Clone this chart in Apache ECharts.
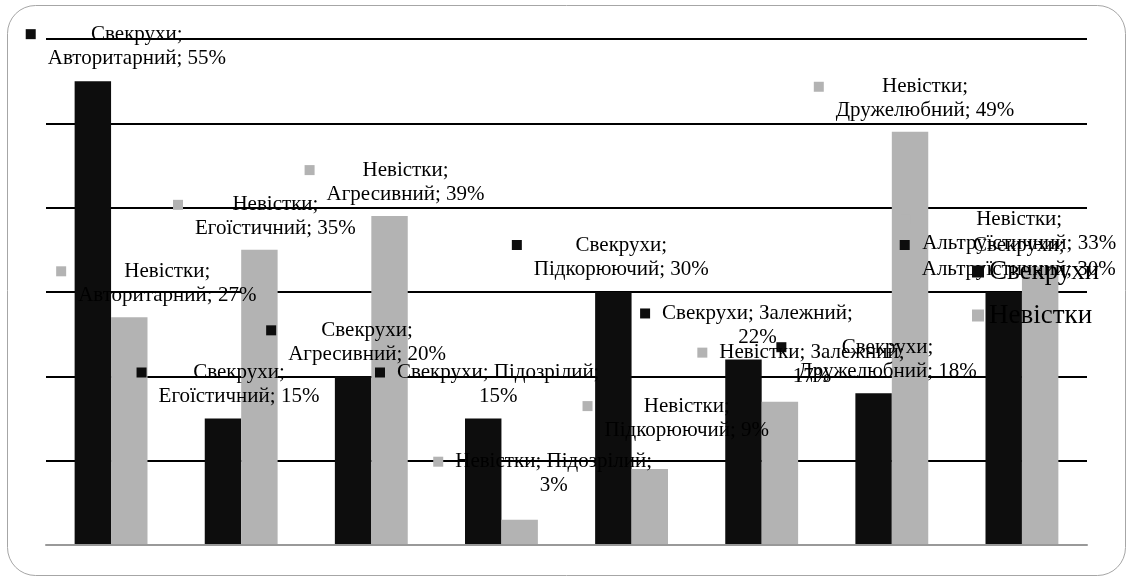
<!DOCTYPE html>
<html>
<head>
<meta charset="utf-8">
<script src="https://cdn.jsdelivr.net/npm/echarts@6/dist/echarts.min.js"></script>
<style>
  html, body { margin: 0; padding: 0; background: #fff; }
  #chart { width: 1127px; height: 578px; }
</style>
</head>
<body>
<div id="chart"></div>
<script>
const categories = ['Авторитарний', 'Егоїстичний', 'Агресивний', 'Підозрілий', 'Підкорюючий', 'Залежний', 'Дружелюбний', 'Альтруїстичний'];
const svekrukhy = [55, 15, 20, 15, 30, 22, 18, 30];
const nevistky = [27, 35, 39, 3, 9, 17, 49, 33];
const yTicks = [0, 10, 20, 30, 40, 50, 60];

// label offsets (px, from the bar top) and after which part the label wraps
const offsetsSv = [[33, -11], [5, -10], [3, -10], [4, -10], [-3, -11], [3, -10], [3, -10], [4, -11]];
const offsetsNv = [[27, -10], [5, -9], [5, -10], [23, -22], [26, -27], [21, -13], [4, -9], [-32, -11]];
const breakSv = [1, 1, 1, 2, 1, 2, 1, 1];
const breakNv = [1, 1, 1, 2, 1, 2, 1, 1];

const FONT = "'Liberation Serif', 'Times New Roman', serif";

function labelText(name, cat, v, brk) {
  const parts = [name + ';', cat + ';', v + '%'];
  const l1 = parts.slice(0, brk).join(' ');
  const l2 = parts.slice(brk).join(' ');
  return '{sq| }{gap| }{t|' + l1 + '}\n{pad| }{t|' + l2 + '}';
}

function makeLabel(color, breaks) {
  return {
    show: true,
    position: 'top',
    distance: 0,
    formatter: p => labelText(p.seriesName, p.name, p.value, breaks[p.dataIndex]),
    rich: {
      sq: { width: 10, height: 10, backgroundColor: color, align: 'left' },
      gap: { width: 12, align: 'left' },
      pad: { width: 22, align: 'left' },
      t: { fontFamily: FONT, fontSize: 21, lineHeight: 24, color: '#000', align: 'center' }
    }
  };
}

const chart = echarts.init(document.getElementById('chart'));

const option = {
  animation: false,
  backgroundColor: '#fff',
  graphic: [{
    type: 'rect',
    silent: true,
    z: -10,
    shape: { x: 7.5, y: 5.5, width: 1118, height: 570, r: 28 },
    style: { fill: 'none', stroke: '#a6a6a6', lineWidth: 1 }
  }],
  grid: { left: 46, right: 40, top: 39, bottom: 33 },
  legend: {
    data: ['Свекрухи', 'Невістки'],
    orient: 'vertical',
    left: 967,
    top: 253,
    icon: 'rect',
    itemWidth: 12,
    itemHeight: 12,
    itemGap: 17,
    textStyle: { fontFamily: FONT, fontSize: 27, lineHeight: 27, color: '#000' }
  },
  xAxis: {
    type: 'category',
    data: categories,
    z: 5,
    axisLabel: { show: false },
    axisTick: { show: false },
    axisLine: { lineStyle: { color: '#999', width: 2 } }
  },
  yAxis: {
    type: 'value',
    min: yTicks[0],
    max: yTicks[yTicks.length - 1],
    interval: yTicks[1] - yTicks[0],
    axisLabel: { show: false },
    axisLine: { show: false },
    axisTick: { show: false },
    splitLine: { lineStyle: { color: '#000', width: 2 } }
  },
  series: [
    {
      name: 'Свекрухи',
      type: 'bar',
      barGap: '0%',
      barCategoryGap: '44%',
      itemStyle: { color: '#0d0d0d' },
      label: makeLabel('#0d0d0d', breakSv),
      data: svekrukhy.map((v, i) => ({ value: v, label: { offset: offsetsSv[i] } }))
    },
    {
      name: 'Невістки',
      type: 'bar',
      barGap: '0%',
      barCategoryGap: '44%',
      itemStyle: { color: '#b3b3b3' },
      label: makeLabel('#b3b3b3', breakNv),
      data: nevistky.map((v, i) => ({ value: v, label: { offset: offsetsNv[i] } }))
    }
  ]
};

chart.setOption(option);
</script>
</body>
</html>
